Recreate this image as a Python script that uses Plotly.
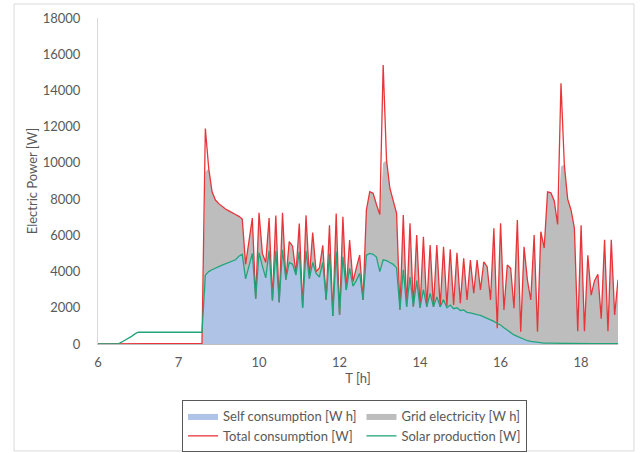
import plotly.graph_objects as go

# ---- data ----
tick_labels = ["6", "7", "10", "12", "14", "16", "18"]
tick_samples = [0, 24, 48, 72, 96, 120, 144]

total_w = [
    0, 0, 0, 0, 0, 0, 40, 40, 40, 40,
    40, 40, 40, 40, 40, 40, 40, 40, 40, 40,
    40, 40, 40, 40, 40, 40, 40, 40, 40, 40,
    40, 40, 11900, 9700, 8400, 7950, 7750, 7580, 7450, 7350,
    7270, 7150, 7050, 6900, 4400, 5600, 6950, 2500, 7250, 5000,
    4500, 6950, 2400, 7100, 2300, 7250, 3550, 5650, 5400, 3900,
    6650, 2000, 7100, 3700, 6150, 4000, 4200, 5450, 2450, 6550,
    1550, 7200, 1600, 7030, 2980, 5740, 3440, 4200, 4910, 2430,
    7400, 8410, 8320, 7700, 7150, 15400, 10160, 8600, 7900, 7220,
    1900, 7120, 2060, 6660, 2060, 6020, 2000, 5920, 2050, 5470,
    2050, 5470, 2050, 5370, 2100, 5230, 2150, 5040, 2250, 4730,
    2430, 4640, 2800, 4640, 2980, 4540, 4270, 2430, 6390, 870,
    6660, 1880, 4360, 4180, 1970, 6850, 680, 5370, 3530, 2430,
    6020, 680, 6200, 5300, 8400, 8350, 7900, 6600, 14400, 9900,
    8000, 7400, 6400, 700, 6550, 700, 4900, 2700, 3500, 3850,
    1400, 5750, 700, 5750, 1600, 3550,
]

solar_w = [
    0, 0, 0, 0, 0, 0, 0, 100, 200, 300,
    420, 560, 650, 650, 650, 650, 650, 650, 650, 650,
    650, 650, 650, 650, 650, 650, 650, 650, 650, 650,
    650, 650, 3800, 4000, 4100, 4200, 4270, 4350, 4420, 4480,
    4540, 4650, 4850, 4950, 3600, 4300, 5000, 2500, 5050, 4300,
    3650, 5150, 2400, 5150, 2300, 5200, 3550, 4500, 4400, 3800,
    5100, 2000, 5150, 3600, 4500, 3900, 3700, 4500, 2450, 5000,
    1550, 5100, 1600, 4820, 2980, 4180, 3200, 3500, 3900, 2430,
    4900, 5000, 4950, 4800, 4000, 4650, 4600, 4500, 4400, 4200,
    1900, 4100, 2060, 3700, 2060, 3500, 2000, 3000, 2050, 2800,
    2050, 2600, 2050, 2450, 2000, 2150, 1950, 2000, 1850, 1880,
    1750, 1720, 1650, 1620, 1580, 1500, 1400, 1330, 1250, 1130,
    1050, 900, 750, 620, 500, 420, 330, 250, 180, 140,
    110, 80, 60, 50, 45, 40, 40, 35, 35, 30,
    30, 30, 25, 25, 25, 20, 20, 20, 20, 20,
    20, 15, 15, 15, 15, 15,
]

self_wh = [
    0, 0, 0, 0, 0, 0, 0, 0, 0, 0,
    0, 0, 0, 0, 0, 0, 0, 0, 0, 0,
    0, 0, 0, 0, 0, 0, 0, 0, 0, 0,
    0, 0, 3800, 4000, 4100, 4200, 4270, 4350, 4420, 4480,
    4540, 4650, 4850, 4950, 3600, 4300, 5000, 2500, 5050, 4300,
    3650, 5150, 2400, 5150, 2300, 5200, 3550, 4500, 4400, 3800,
    5100, 2000, 5150, 3600, 4500, 3900, 3700, 4500, 2450, 5000,
    1550, 5100, 1600, 4820, 2980, 4180, 3200, 3500, 3900, 2430,
    4900, 5000, 4950, 4800, 4000, 4650, 4600, 4500, 4400, 4200,
    1900, 4100, 2060, 3700, 2060, 3500, 2000, 3000, 2050, 2800,
    2050, 2600, 2050, 2450, 2000, 2150, 1950, 2000, 1850, 1880,
    1750, 1720, 1650, 1620, 1580, 1500, 1400, 1330, 1250, 870,
    1050, 900, 750, 620, 500, 420, 330, 250, 180, 140,
    110, 80, 60, 50, 45, 40, 40, 35, 35, 30,
    30, 30, 25, 25, 25, 20, 20, 20, 20, 20,
    20, 15, 15, 15, 15, 15,
]

grid_wh = [
    0, 0, 0, 0, 0, 0, 0, 0, 0, 0,
    0, 0, 0, 0, 0, 0, 0, 0, 0, 0,
    0, 0, 0, 0, 0, 0, 0, 0, 0, 0,
    0, 0, 5700, 5700, 4300, 3750, 3480, 3230, 3030, 2870,
    2730, 2500, 2200, 1950, 800, 1300, 1950, 0, 2200, 700,
    850, 1800, 0, 1950, 0, 2050, 0, 1150, 1000, 100,
    1550, 0, 1950, 100, 1650, 100, 500, 950, 0, 1550,
    0, 2100, 0, 2210, 0, 1560, 240, 700, 1010, 0,
    2500, 3410, 3370, 2900, 3150, 5350, 5560, 4100, 3500, 3020,
    0, 3020, 0, 2960, 0, 2520, 0, 2920, 0, 2670,
    0, 2870, 0, 2920, 100, 3080, 200, 3040, 400, 2850,
    680, 2920, 1150, 3020, 1400, 3040, 2870, 1100, 5140, 0,
    5610, 980, 3610, 3560, 1470, 6430, 350, 5120, 3350, 2290,
    5910, 600, 6140, 5250, 8355, 8310, 7860, 6565, 9765, 9870,
    7970, 7370, 6375, 675, 6525, 680, 4880, 2680, 3480, 3830,
    1380, 5735, 685, 5735, 1585, 3535,
]

samples = list(range(len(total_w)))

# ---- figure ----
fig = go.Figure()
fig.add_trace(go.Scatter(
    x=samples, y=self_wh, name="Self consumption [W h]", mode="lines",
    stackgroup="one", line=dict(width=0, color="#AFC3E6"), fillcolor="#AFC3E6"))
fig.add_trace(go.Scatter(
    x=samples, y=grid_wh, name="Grid electricity [W h]", mode="lines",
    stackgroup="one", line=dict(width=0, color="#BDBDBD"), fillcolor="#BDBDBD"))
fig.add_trace(go.Scatter(
    x=samples, y=total_w, name="Total consumption [W]", mode="lines",
    line=dict(width=1.3, color="#E8353A")))
fig.add_trace(go.Scatter(
    x=samples, y=solar_w, name="Solar production [W]", mode="lines",
    line=dict(width=1.3, color="#22A47A")))

fig.update_layout(
    width=640, height=453,
    margin=dict(l=98, r=22, t=18, b=109, autoexpand=False),
    paper_bgcolor="white", plot_bgcolor="white",
    font=dict(family="Lato", size=13, color="#595959"),
    showlegend=True,
    legend=dict(
        orientation="h", xref="container", yref="container",
        x=182 / 640, y=1 - 400 / 453, xanchor="left", yanchor="top",
        bordercolor="#595959", borderwidth=1, bgcolor="white",
        itemwidth=30, tracegroupgap=0, font=dict(size=13, color="#595959"),
        traceorder="normal"),
    shapes=[dict(type="rect", xref="paper", yref="paper",
                 x0=-0.1615, x1=1.0308, y0=-0.328, y1=1.043,
                 line=dict(color="#D9D9D9", width=1), layer="below")],
)
fig.update_xaxes(
    range=[0, len(total_w) - 1], tickmode="array", tickvals=tick_samples,
    ticktext=tick_labels, showline=True, linecolor="#BFBFBF", linewidth=1,
    ticks="outside", ticklen=6, tickcolor="rgba(0,0,0,0)",
    showgrid=False, zeroline=False,
    title=dict(text="T [h]", standoff=4, font=dict(size=13, color="#595959")))
fig.update_yaxes(
    range=[0, 18000], dtick=2000, tickformat="d", showline=True,
    linecolor="#D9D9D9", linewidth=1, ticks="outside", ticklen=14,
    tickcolor="rgba(0,0,0,0)", showgrid=False, zeroline=False,
    title=dict(text="Electric Power [W]", standoff=2,
               font=dict(size=13, color="#595959")))

fig.write_html("out.html", config={"displayModeBar": False},
               post_script="document.body.style.margin='0';")
